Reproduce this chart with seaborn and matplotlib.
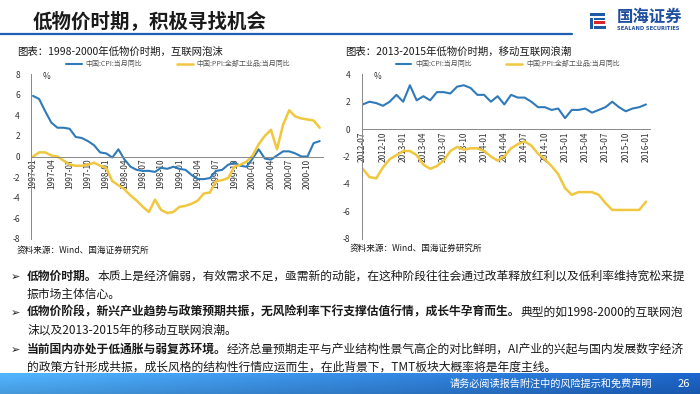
import numpy as np
import pandas as pd
import seaborn as sns
import matplotlib.pyplot as plt
from matplotlib.patches import Rectangle

sns.set_style('white')
plt.rcParams['font.family'] = ['Noto Sans CJK SC', 'DejaVu Sans']
plt.rcParams['axes.unicode_minus'] = False

# 数据 -------------------------------------------------------------
CPI_NAME = '中国:CPI:当月同比'
PPI_NAME = '中国:PPI:全部工业品:当月同比'

# 左图: 1997-01 ~ 2000-12
months_a = pd.period_range('1997-01', '2000-12', freq='M').strftime('%Y-%m').tolist()
cpi_a = [5.9, 5.6, 4.4, 3.3, 2.8, 2.8, 2.7, 1.9, 1.8, 1.5, 1.1, 0.4,
         0.3, -0.1, 0.7, -0.3, -1.0, -1.3, -1.4, -1.4, -1.5, -1.1, -1.2, -1.0,
         -1.2, -1.3, -1.8, -2.2, -2.2, -2.1, -1.4, -1.3, -0.8, -0.6, -0.9, -1.0,
         -0.2, 0.7, -0.2, -0.3, 0.1, 0.5, 0.5, 0.3, 0.0, 0.0, 1.3, 1.5]
ppi_a = [0.0, 0.4, 0.4, 0.1, 0.0, -0.4, -0.8, -0.9, -0.9, -0.8, -0.6, -0.9,
         -1.1, -2.4, -2.8, -3.2, -3.8, -4.3, -4.9, -5.4, -4.2, -5.2, -5.5, -5.4,
         -4.9, -4.8, -4.6, -4.3, -3.6, -3.5, -2.4, -2.3, -2.1, -1.0, -0.8, -0.5,
         0.1, 1.2, 2.0, 2.6, 0.7, 3.1, 4.5, 3.9, 3.7, 3.6, 3.5, 2.8]

# 右图: 2012-07 ~ 2016-01
months_b = pd.period_range('2012-07', '2016-01', freq='M').strftime('%Y-%m').tolist()
cpi_b = [1.8, 2.0, 1.9, 1.7, 2.0, 2.5, 2.0, 3.2, 2.1, 2.4, 2.1, 2.7,
         2.7, 2.6, 3.1, 3.2, 3.0, 2.5, 2.5, 2.0, 2.4, 1.8, 2.5, 2.3,
         2.3, 2.0, 1.6, 1.6, 1.4, 1.5, 0.8, 1.4, 1.4, 1.5, 1.2, 1.4,
         1.6, 2.0, 1.6, 1.3, 1.5, 1.6, 1.8]
ppi_b = [-2.9, -3.5, -3.6, -2.8, -2.2, -1.9, -1.6, -1.6, -1.9, -2.6, -2.9, -2.7,
         -2.3, -1.6, -1.3, -1.5, -1.4, -1.4, -1.6, -2.0, -2.3, -2.0, -1.4, -1.1,
         -0.9, -1.2, -1.8, -2.2, -2.7, -3.3, -4.3, -4.8, -4.6, -4.6, -4.6, -4.8,
         -5.4, -5.9, -5.9, -5.9, -5.9, -5.9, -5.3]

# 文本
title = '低物价时期，积极寻找机会'
sub_a = '图表：1998-2000年低物价时期，互联网泡沫'
sub_b = '图表：2013-2015年低物价时期，移动互联网浪潮'
source = '资料来源：Wind、国海证券研究所'
bullet_lines = [
    (True, '低物价时期。', '本质上是经济偏弱，有效需求不足，亟需新的动能，在这种阶段往往会通过改革释放红利以及低利率维持宽松来提'),
    (False, '', '振市场主体信心。'),
    (True, '低物价阶段，新兴产业趋势与政策预期共振，无风险利率下行支撑估值行情，成长牛孕育而生。', '典型的如1998-2000的互联网泡'),
    (False, '', '沫以及2013-2015年的移动互联网浪潮。'),
    (True, '当前国内亦处于低通胀与弱复苏环境。', '经济总量预期走平与产业结构性景气高企的对比鲜明，AI产业的兴起与国内发展数字经济'),
    (False, '', '的政策方针形成共振，成长风格的结构性行情应运而生，在此背景下，TMT板块大概率将是年度主线。'),
]
footer = '请务必阅读报告附注中的风险提示和免费声明'
page_no = '26'

BLUE = '#2f7ab9'
YELLOW = '#f0c73e'
W, H = 700, 394


def fx(x):
    return x / W


def fy(y):
    return 1 - y / H


fig = plt.figure(figsize=(7, 3.94), dpi=100)
bg = fig.add_axes([0, 0, 1, 1])
bg.set_xlim(0, 1)
bg.set_ylim(0, 1)
bg.axis('off')

# 标题与分隔线
fig.text(fx(33), fy(21), title, fontsize=14, weight='bold', color='#1a1a1a', va='center')
bg.plot([0, fx(572)], [fy(34)] * 2, color='#2060b4', lw=1.6)

# logo
for (x0, y0, x1, y1, c) in [(590, 13, 605, 15.5, '#1f5aa8'), (590, 17.5, 592.5, 29, '#1f5aa8'),
                             (594, 18, 605, 20, '#1f5aa8'), (594, 21.5, 605, 24, '#d9262c'),
                             (594, 25.5, 606, 28.5, '#1f5aa8')]:
    bg.add_patch(Rectangle((fx(x0), fy(y1)), fx(x1 - x0), (y1 - y0) / H, color=c, lw=0))
fig.text(fx(617), fy(17), '国海证券', fontsize=11.8, weight='bold', color='#1f4f9e', va='center')
fig.text(fx(617), fy(29), 'SEALAND SECURITIES', fontsize=3.7, weight='bold', color='#1f4f9e',
         va='center', family='DejaVu Sans')


def draw_panel(rect, months, cpi, ppi, xlim, ylim, legend_x):
    ax = fig.add_axes(rect)
    idx = np.arange(len(months))
    sns.lineplot(x=idx, y=cpi, color=BLUE, lw=1.5, ax=ax, label=CPI_NAME)
    sns.lineplot(x=idx, y=ppi, color=YELLOW, lw=1.8, ax=ax, label=PPI_NAME)
    # 先挪 x 轴到 0 的位置，再设刻度（set_position 会重置刻度）
    for s in ['top', 'right']:
        ax.spines[s].set_visible(False)
    ax.spines['bottom'].set_position(('data', 0))
    for s in ['left', 'bottom']:
        ax.spines[s].set_color('#888')
        ax.spines[s].set_linewidth(0.7)
    ax.set_xlim(*xlim)
    ax.set_ylim(*ylim)
    ax.set_yticks(np.arange(ylim[0], ylim[1] + 1, 2))
    ax.set_xticks(idx[::3])
    ax.set_xticklabels(months[::3])
    ax.tick_params(axis='y', labelsize=6, colors='#333', direction='in', length=2.5, pad=8, width=0.6)
    ax.tick_params(axis='x', direction='in', length=2.5, pad=1.5, width=0.6, color='#888',
                   labelsize=6, labelcolor='#333', labelrotation=90)
    ax.set_xlabel('')
    ax.set_ylabel('')
    ax.text(0.04, 0.985, '%', transform=ax.transAxes, fontsize=6, color='#333', va='center')
    ax.legend(ncol=2, loc='center', bbox_to_anchor=(legend_x, 1.06), frameon=False, fontsize=5,
              handlelength=2.3, handletextpad=0.5, columnspacing=5, labelcolor='#555')
    return ax


ax_a = draw_panel([fx(31), fy(238.7), fx(323 - 31), (238.7 - 74.3) / H], months_a, cpi_a, ppi_a,
                  (-0.33, 47.54), (-8, 8), 0.505)
ax_b = draw_panel([fx(361.7), fy(238.7), fx(650 - 361.7), (238.7 - 74.3) / H], months_b, cpi_b, ppi_b,
                  (-0.15, 42.6), (-8, 4), 0.506)

fig.text(fx(17), fy(52), sub_a, fontsize=7.5, color='#1a1a1a', va='center')
fig.text(fx(345), fy(52), sub_b, fontsize=7.5, color='#1a1a1a', va='center')
fig.text(fx(17), fy(250), source, fontsize=6.2, color='#1a1a1a', va='center')
fig.text(fx(350), fy(248), source, fontsize=6.2, color='#1a1a1a', va='center')

# 正文要点
line_y = [277, 295, 313, 331, 350, 368]
for (bullet, bold, normal), y in zip(bullet_lines, line_y):
    if bullet:
        fig.text(fx(11), fy(y), '➢', fontsize=8, color='#1a1a1a', va='center')
    t = fig.text(fx(27), fy(y + 6), bold, fontsize=8.5, weight='bold', color='#1a1a1a', va='bottom')
    bg.annotate(normal, xy=(1, 0), xycoords=t, fontsize=8.5, color='#1a1a1a', va='bottom', ha='left')

# 页脚渐变条
grad = np.linspace(0, 1, 256)
c0 = np.array([0.29, 0.64, 0.91])
c1 = np.array([0.10, 0.36, 0.72])
img = (c0[None, None, :] * (1 - grad[None, :, None]) + c1[None, None, :] * grad[None, :, None])
vert = np.linspace(1.12, 0.95, 20)[:, None, None]
img = np.clip(np.repeat(img, 20, axis=0) * vert, 0, 1)
bg.imshow(img, extent=[0, 1, 0, fy(374)], aspect='auto', zorder=5)
fig.text(fx(652), fy(384), footer, fontsize=7.3, color='white', ha='right', va='center', zorder=6)
fig.text(fx(690), fy(384), page_no, fontsize=8, color='white', ha='right', va='center', zorder=6)

fig.savefig('out.png', dpi=100)
